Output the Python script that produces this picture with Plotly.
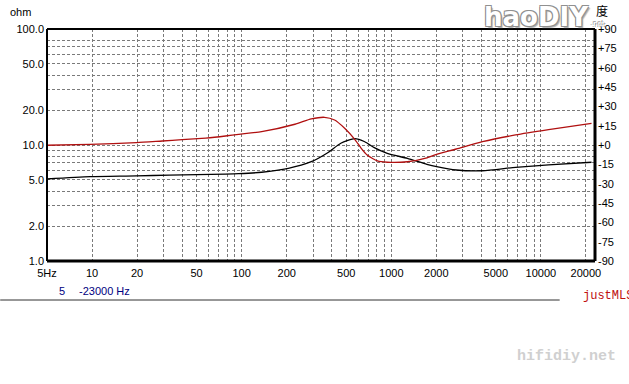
import numpy as np
import plotly.graph_objects as go

# ---- data ----
freq_imp = [5, 9.7, 19.8, 32.8, 78, 95.5, 136, 205, 292, 376, 460, 570, 665, 770,
            940, 1280, 1730, 2010, 2720, 4070, 6770, 11250, 21800]
impedance = [5.09, 5.33, 5.41, 5.51, 5.62, 5.66, 5.82, 6.29, 7.18, 8.58, 10.35, 11.35,
             10.67, 9.48, 8.47, 7.67, 6.82, 6.51, 6.09, 6.00, 6.42, 6.73, 7.10]

freq_ph = [5, 9.7, 19.8, 29.5, 40, 57.5, 78, 95.5, 136, 227, 292, 358, 418, 488, 570,
           630, 690, 808, 940, 1280, 1730, 2010, 2720, 4070, 6770, 11250, 21800]
phase = [-0.2, 0.5, 1.8, 3.1, 4.1, 5.4, 7.0, 8.3, 10.3, 16.1, 20.2, 21.5, 19.4, 13.0,
         4.4, -2.6, -7.8, -12.4, -13.4, -13.0, -9.9, -7.2, -3.1, 2.6, 7.8, 11.9, 16.8]

x_tickvals = [5, 10, 20, 50, 100, 200, 500, 1000, 2000, 5000, 10000, 20000]
x_ticktext = ["5Hz", "10", "20", "50", "100", "200", "500", "1000", "2000", "5000",
              "10000", "20000"]
x_grid = [10 * k for k in range(1, 10)] + [100 * k for k in range(1, 10)] + \
         [1000 * k for k in range(1, 10)] + [10000, 20000]

y_tickvals = [1, 2, 5, 10, 20, 50, 100]
y_ticktext = ["1.0", "2.0", "5.0", "10.0", "20.0", "50.0", "100.0"]
y_grid = [2, 3, 4, 5, 6, 7, 8, 9, 10, 20, 30, 40, 50, 60, 70, 80]

deg_ticks = list(range(-90, 91, 15))
deg_labels = [("+%d" % d) if d >= 0 else ("%d" % d) for d in deg_ticks]

FONT = "Liberation Sans"
GRID = dict(showgrid=True, gridcolor="#7a7a7a", griddash="3px,2px", gridwidth=1)

fig = go.Figure()
fig.add_trace(go.Scatter(x=freq_imp, y=impedance, mode="lines", yaxis="y",
                         line=dict(color="#000000", width=1.3, shape="spline", smoothing=0.6),
                         showlegend=False, hoverinfo="skip"))
fig.add_trace(go.Scatter(x=freq_ph, y=phase, mode="lines", yaxis="y2",
                         line=dict(color="#b01010", width=1.3, shape="spline", smoothing=0.6),
                         showlegend=False, hoverinfo="skip"))

L, R, T, B = 47, 597.5, 29, 261
W, H = 629, 384


def px(x):
    return (x - L) / (R - L)


def py(y):
    return (B - y) / (B - T)


fig.update_layout(
    width=W, height=H,
    margin=dict(l=L, r=W - R, t=T, b=H - B, pad=0),
    paper_bgcolor="white", plot_bgcolor="white",
    font=dict(family=FONT, size=11, color="black"),
    xaxis=dict(type="log", range=[np.log10(5), np.log10(23000)],
               tickmode="array", tickvals=x_tickvals, ticktext=x_ticktext,
               showgrid=False, ticks="", showline=False, zeroline=False,
               ticklabelstandoff=4, tickfont=dict(family=FONT, size=11),
               minor=dict(tickmode="array", tickvals=x_grid, ticks="", **GRID)),
    yaxis=dict(type="log", range=[0, 2],
               tickmode="array", tickvals=y_tickvals, ticktext=y_ticktext,
               showgrid=False, ticks="", showline=False, zeroline=False,
               ticklabelstandoff=2, tickfont=dict(family=FONT, size=11),
               minor=dict(tickmode="array", tickvals=y_grid, ticks="", **GRID)),
    yaxis2=dict(range=[-90, 90], overlaying="y", side="right",
                tickmode="array", tickvals=deg_ticks, ticktext=deg_labels,
                showgrid=False, zeroline=False, ticks="", showline=False,
                ticklabelstandoff=2, tickfont=dict(family=FONT, size=11)),
    shapes=[
        dict(type="line", xref="paper", yref="paper", x0=0, x1=1, y0=1, y1=1,
             line=dict(color="black", width=2)),
        dict(type="line", xref="paper", yref="paper", x0=0, x1=0, y0=0, y1=1,
             line=dict(color="black", width=2)),
        dict(type="line", xref="paper", yref="paper", x0=0, x1=1, y0=0, y1=0,
             line=dict(color="black", width=3)),
        dict(type="line", xref="paper", yref="paper", x0=1, x1=1, y0=0, y1=1,
             line=dict(color="black", width=3)),
        dict(type="line", xref="paper", yref="paper", x0=px(0), x1=px(562),
             y0=py(300), y1=py(300), line=dict(color="#303030", width=1)),
    ],
)

ann = [
    dict(text="ohm", x=px(8), y=py(12), xanchor="left", yanchor="middle",
         font=dict(family=FONT, size=11, color="black")),
    dict(text="度", x=px(605), y=py(11), xanchor="center", yanchor="middle",
         font=dict(family="Noto Sans CJK SC", size=12, color="black")),
    dict(text="5", x=px(62), y=py(291), xanchor="center", yanchor="middle",
         font=dict(family=FONT, size=11, color="#000080")),
    dict(text="-23000 Hz", x=px(77), y=py(291), xanchor="left", yanchor="middle",
         font=dict(family=FONT, size=11, color="#000080")),
    dict(text="justMLS", x=px(583), y=py(296), xanchor="left", yanchor="middle",
         font=dict(family="Liberation Mono", size=12, color="#c01010")),
    dict(text="hifidiy.net", x=px(569), y=py(356), xanchor="center", yanchor="middle",
         font=dict(family="Liberation Mono", size=15, color="#d0d0d0", weight="bold")),
    dict(text="haoDIY", x=px(539), y=py(17), xanchor="center", yanchor="middle",
         font=dict(family="DejaVu Sans", size=26, color="white", weight="bold",
                   shadow="1px 1px 0 #909090, -1px -1px 0 #909090, 1px -1px 0 #909090, -1px 1px 0 #909090, 2px 2px 1px #b0b0b0")),
    dict(text=".net", x=px(601), y=py(24), xanchor="center", yanchor="middle",
         font=dict(family="DejaVu Sans", size=7, color="white",
                   shadow="1px 1px 0 #909090, -1px -1px 0 #909090")),
]
for a in ann:
    a.update(xref="paper", yref="paper", showarrow=False)
fig.update_layout(annotations=ann)

fig.write_html("out.html")
